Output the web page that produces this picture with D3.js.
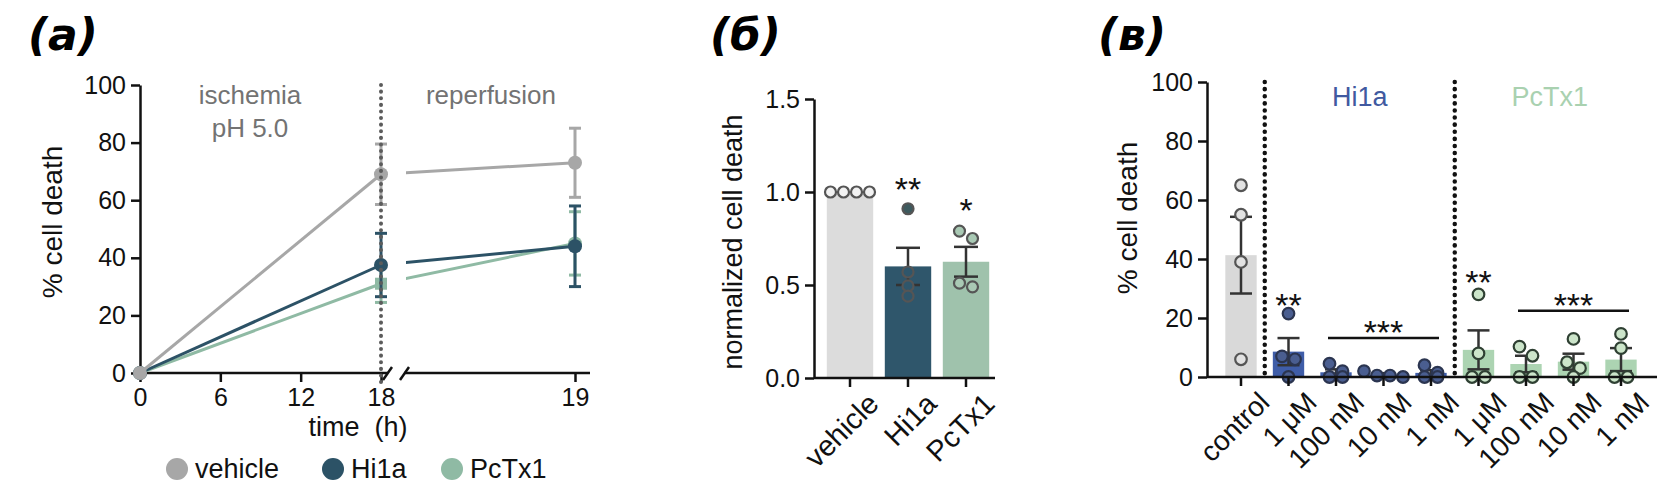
<!DOCTYPE html>
<html>
<head>
<meta charset="utf-8">
<script src="https://cdn.jsdelivr.net/npm/d3@7"></script>
<style>
  body { margin: 0; background: #fff; }
  svg text { font-family: "Liberation Sans", Arial, sans-serif; }
  .panel-label { font-family: "DejaVu Sans", sans-serif; font-weight: bold; font-style: italic; }
</style>
</head>
<body>
<div id="vis"></div>
<script>
const W = 1657, H = 484;

// ---- panel (a) data ----
const seriesA = ["vehicle", "Hi1a", "PcTx1"];
const timesA = [0, 18, 19];
const ticksA1 = [0, 6, 12, 18];
const ticksA2 = [19];
const meanA = {
  vehicle: [0, 69, 73],
  Hi1a: [0, 37.5, 44],
  PcTx1: [0, 31, 45]
};
const semA = {
  vehicle: [0, 10.5, 12],
  Hi1a: [0, 11, 14],
  PcTx1: [0, 6.5, 11]
};
const colorsA = { vehicle: "#a7a7a7", Hi1a: "#2c5266", PcTx1: "#8fbaa4" };

// ---- panel (б) data ----
const groupsB = ["vehicle", "Hi1a", "PcTx1"];
const meanB = [1.0, 0.60, 0.625];
const semB = [0, 0.10, 0.08];
const pointsB = [[1, 1, 1, 1], [0.91, 0.57, 0.495, 0.44], [0.79, 0.75, 0.51, 0.49]];
const starsB = ["", "**", "*"];
const starLevelB = [0, 1.054, 0.94];
const ticksB = [0, 0.5, 1.0, 1.5];

// ---- panel (в) data ----
const labelsC = ["control", "1 μM", "100 nM", "10 nM", "1 nM", "1 μM", "100 nM", "10 nM", "1 nM"];
const groupC = ["control", "Hi1a", "Hi1a", "Hi1a", "Hi1a", "PcTx1", "PcTx1", "PcTx1", "PcTx1"];
const meanC = [41.3, 8.6, 1.6, 0.8, 1.4, 9.2, 4.4, 5.2, 5.9];
const semC = [13, 4.6, 1.0, 0.5, 0.9, 6.6, 2.8, 2.7, 3.9];
const pointsC = [
  [65, 55, 39, 6], [21.5, 7, 6, 0], [4.5, 2, 0, 0], [2, 0.5, 0.5, 0], [4, 1.5, 0, 0],
  [28, 8, 0, 0], [10.3, 7.2, 0, 0], [12.9, 5, 3, 0], [14.6, 9.8, 0, 0]
];
const sigText = ["**", "***", "**", "***"];
const sigFrom = [1, 2, 5, 6];
const sigTo = [1, 4, 5, 8];
const sigLine = [null, 13.2, null, 22.5];
const sigTextLevel = [26.8, 17.6, 34.6, 26.8];
const ticksC = [0, 20, 40, 60, 80, 100];

const barColorC = { control: "#d9d9d9", Hi1a: "#3f5da8", PcTx1: "#acd4b2" };
const dotFillC = { control: "#e2e2e2", Hi1a: "#4a5e90", PcTx1: "#cce5ca" };
const dotStrokeC = { control: "#555", Hi1a: "#2b3550", PcTx1: "#2f4033" };

const svg = d3.select("#vis").append("svg")
  .attr("width", W).attr("height", H);

function styleAxis(g, size) {
  g.selectAll("path, line").attr("stroke", "#111").attr("stroke-width", 2.5);
  g.selectAll("text").attr("fill", "#111").style("font-size", size + "px");
}

// simple row swarm: equal-ish values get spread side by side
function swarm(vals, y, r) {
  const items = vals.map(v => ({ v: v, y: y(v) })).sort((a, b) => a.y - b.y);
  const rows = [];
  items.forEach(it => {
    const row = rows.find(rw => Math.abs(rw.y - it.y) < r * 1.6);
    if (row) row.items.push(it); else rows.push({ y: it.y, items: [it] });
  });
  rows.forEach(rw => rw.items.forEach((it, k) => { it.dx = (k - (rw.items.length - 1) / 2) * (2 * r + 1); }));
  return items;
}

// ================= panel (a) =================
const xA1 = d3.scaleLinear().domain([0, 18]).range([140, 381]);
const xA2 = d3.scaleLinear().domain([18, 19]).range([381, 575]);
const yA = d3.scaleLinear().domain([0, 100]).range([373, 85]);
const gA = svg.append("g");

svg.append("text").attr("class", "panel-label")
  .attr("x", 28).attr("y", 50).style("font-size", "44px").text("(a)");

const axYA = gA.append("g").attr("transform", "translate(140,0)")
  .call(d3.axisLeft(yA).tickValues([0, 20, 40, 60, 80, 100]).tickSize(9).tickSizeOuter(0).tickPadding(5));
styleAxis(axYA, 25);

const axXA1 = gA.append("g").attr("transform", "translate(0,373)")
  .call(d3.axisBottom(xA1).tickValues(ticksA1).tickSize(9).tickSizeOuter(0).tickPadding(6));
axXA1.select(".domain").remove();
styleAxis(axXA1, 25);
const axXA2 = gA.append("g").attr("transform", "translate(0,373)")
  .call(d3.axisBottom(xA2).tickValues(ticksA2).tickFormat(d3.format("d")).tickSize(9).tickSizeOuter(0).tickPadding(6));
axXA2.select(".domain").remove();
styleAxis(axXA2, 25);

// broken x axis line
gA.append("line").attr("x1", 140).attr("x2", 388).attr("y1", 373).attr("y2", 373)
  .attr("stroke", "#111").attr("stroke-width", 2.5);
gA.append("line").attr("x1", 404).attr("x2", 590).attr("y1", 373).attr("y2", 373)
  .attr("stroke", "#111").attr("stroke-width", 2.5);
[383, 400].forEach(bx => {
  gA.append("line").attr("x1", bx).attr("x2", bx + 9).attr("y1", 380).attr("y2", 367)
    .attr("stroke", "#111").attr("stroke-width", 2.5);
});

gA.append("text").attr("transform", "translate(62,222) rotate(-90)")
  .attr("text-anchor", "middle").style("font-size", "28px").attr("fill", "#111").text("% cell death");
gA.append("text").attr("x", 358).attr("y", 436).attr("text-anchor", "middle")
  .style("font-size", "27px").style("white-space", "pre").attr("fill", "#111").text("time  (h)");

gA.append("text").attr("x", 250).attr("y", 104).attr("text-anchor", "middle")
  .style("font-size", "26px").attr("fill", "#737373").text("ischemia");
gA.append("text").attr("x", 250).attr("y", 137).attr("text-anchor", "middle")
  .style("font-size", "26px").attr("fill", "#737373").text("pH 5.0");
gA.append("text").attr("x", 491).attr("y", 104).attr("text-anchor", "middle")
  .style("font-size", "26px").attr("fill", "#737373").text("reperfusion");

svg.append("clipPath").attr("id", "seg2")
  .append("rect").attr("x", 406).attr("y", 0).attr("width", 300).attr("height", 484);
svg.append("clipPath").attr("id", "seg1")
  .append("rect").attr("x", 0).attr("y", 0).attr("width", 390).attr("height", 484);

const drawOrder = ["PcTx1", "Hi1a", "vehicle"];
drawOrder.forEach(s => {
  const m = meanA[s], e = semA[s], c = colorsA[s];
  const pts1 = [[xA1(timesA[0]), yA(m[0])], [xA1(timesA[1]), yA(m[1])]];
  gA.append("path").attr("d", d3.line()(pts1)).attr("fill", "none")
    .attr("stroke", c).attr("stroke-width", 3).attr("clip-path", "url(#seg1)");
  const pts2 = [[xA2(timesA[1]), yA(m[1])], [xA2(timesA[2]), yA(m[2])]];
  gA.append("path").attr("d", d3.line()(pts2)).attr("fill", "none")
    .attr("stroke", c).attr("stroke-width", 3).attr("clip-path", "url(#seg2)");
  // error bars at 18 and 19
  [[xA1(18), 1], [xA2(19), 2]].forEach(([px, i]) => {
    const hi = yA(m[i] + e[i]), lo = yA(m[i] - e[i]);
    gA.append("line").attr("x1", px).attr("x2", px).attr("y1", hi).attr("y2", lo)
      .attr("stroke", c).attr("stroke-width", 3);
    [hi, lo].forEach(yy => gA.append("line").attr("x1", px - 6).attr("x2", px + 6)
      .attr("y1", yy).attr("y2", yy).attr("stroke", c).attr("stroke-width", 3));
  });
  timesA.forEach((t, i) => {
    const px = t <= 18 ? xA1(t) : xA2(t);
    if (s === "PcTx1" && t === 18) {
      gA.append("rect").attr("x", px - 6).attr("y", yA(m[i]) - 6).attr("width", 12).attr("height", 12).attr("fill", c);
    } else {
      gA.append("circle").attr("cx", px).attr("cy", yA(m[i])).attr("r", 7).attr("fill", c);
    }
  });
});

// dotted separator at 18 h
gA.append("line").attr("x1", xA1(18)).attr("x2", xA1(18)).attr("y1", yA(100)).attr("y2", yA(0) + 12)
  .attr("stroke", "#5c5c5c").attr("stroke-width", 4).attr("stroke-linecap", "round")
  .attr("stroke-dasharray", "0.1,6.5");

// legend
const legX = [177, 333, 452];
seriesA.forEach((s, i) => {
  gA.append("circle").attr("cx", legX[i]).attr("cy", 469).attr("r", 11).attr("fill", colorsA[s]);
  gA.append("text").attr("x", legX[i] + 18).attr("y", 478).style("font-size", "27px")
    .attr("fill", "#111").text(s);
});

// ================= panel (б) =================
const xB = d3.scaleBand().domain(groupsB).range([821, 995]).paddingInner(0.2).paddingOuter(0.1);
const yB = d3.scaleLinear().domain([0, 1.5]).range([378, 99]);
const gB = svg.append("g");
const barColB = ["#dcdcdc", "#2f566b", "#9fc2ac"];

svg.append("text").attr("class", "panel-label")
  .attr("x", 710).attr("y", 50).style("font-size", "44px").text("(б)");

gB.selectAll("rect.bar").data(groupsB).enter().append("rect")
  .attr("x", d => xB(d)).attr("y", (d, i) => yB(meanB[i]))
  .attr("width", xB.bandwidth()).attr("height", (d, i) => yB(0) - yB(meanB[i]))
  .attr("fill", (d, i) => barColB[i]);

groupsB.forEach((g, i) => {
  const cx = xB(g) + xB.bandwidth() / 2;
  if (semB[i] > 0) {
    const hi = yB(meanB[i] + semB[i]), lo = yB(meanB[i] - semB[i]);
    gB.append("line").attr("x1", cx).attr("x2", cx).attr("y1", hi).attr("y2", lo).attr("stroke", "#333").attr("stroke-width", 2.5);
    [hi, lo].forEach(yy => gB.append("line").attr("x1", cx - 12).attr("x2", cx + 12).attr("y1", yy).attr("y2", yy)
      .attr("stroke", "#333").attr("stroke-width", 2.5));
  }
  swarm(pointsB[i], yB, 6).forEach(p => {
    const above = p.y < yB(meanB[i]) - 6;
    let fill = i === 0 ? "#f2f2f2" : (i === 1 ? "#2f566b" : "#a9c9b4");
    if (i === 1 && above) fill = "#3d5a5e";
    gB.append("circle").attr("cx", cx + p.dx).attr("cy", p.y).attr("r", 5.5)
      .attr("fill", fill).attr("stroke", "#555").attr("stroke-width", 2.2);
  });
  if (starsB[i]) {
    gB.append("text").attr("x", cx).attr("y", yB(starLevelB[i]) + 19).attr("text-anchor", "middle")
      .style("font-size", "34px").attr("fill", "#111").text(starsB[i]);
  }
});

const axYB = gB.append("g").attr("transform", "translate(814,0)")
  .call(d3.axisLeft(yB).tickValues(ticksB).tickFormat(d3.format(".1f")).tickSize(9).tickSizeOuter(0).tickPadding(5));
styleAxis(axYB, 25);
const axXB = gB.append("g").attr("transform", "translate(0,378)")
  .call(d3.axisBottom(xB).tickSize(9).tickSizeOuter(0).tickPadding(4));
axXB.select(".domain").remove();
styleAxis(axXB, 29);
axXB.selectAll("text").attr("text-anchor", "end")
  .attr("transform", "translate(9,6) rotate(-45)").attr("dy", "0.6em");
gB.append("line").attr("x1", 814).attr("x2", 995).attr("y1", 378).attr("y2", 378)
  .attr("stroke", "#111").attr("stroke-width", 2.5);
gB.append("text").attr("transform", "translate(742,242) rotate(-90)")
  .attr("text-anchor", "middle").style("font-size", "27px").attr("fill", "#111").text("normalized cell death");

// ================= panel (в) =================
const idxC = d3.range(labelsC.length);
const xC = d3.scaleBand().domain(idxC).range([1217.25, 1644.75]).paddingInner(0.34).paddingOuter(0.17);
const yC = d3.scaleLinear().domain([0, 100]).range([377, 82]);
const gC = svg.append("g");
const cxC = i => xC(i) + xC.bandwidth() / 2;

svg.append("text").attr("class", "panel-label")
  .attr("x", 1098).attr("y", 50).style("font-size", "44px").text("(в)");

gC.selectAll("rect.bar").data(idxC).enter().append("rect")
  .attr("x", i => xC(i)).attr("y", i => yC(meanC[i]))
  .attr("width", xC.bandwidth()).attr("height", i => yC(0) - yC(meanC[i]))
  .attr("fill", i => barColorC[groupC[i]]);

idxC.forEach(i => {
  const cx = cxC(i);
  const hi = yC(meanC[i] + semC[i]), lo = yC(Math.max(0, meanC[i] - semC[i]));
  gC.append("line").attr("x1", cx).attr("x2", cx).attr("y1", hi).attr("y2", lo).attr("stroke", "#333").attr("stroke-width", 2.5);
  [hi, lo].forEach(yy => gC.append("line").attr("x1", cx - 11).attr("x2", cx + 11).attr("y1", yy).attr("y2", yy)
    .attr("stroke", "#333").attr("stroke-width", 2.5));
  swarm(pointsC[i], yC, 6).forEach(p => {
    gC.append("circle").attr("cx", cx + p.dx).attr("cy", p.y).attr("r", 5.8)
      .attr("fill", dotFillC[groupC[i]]).attr("stroke", dotStrokeC[groupC[i]]).attr("stroke-width", 2.2);
  });
});

// dotted group separators
[[0, 1], [4, 5]].forEach(([a, b]) => {
  const sx = (cxC(a) + cxC(b)) / 2;
  gC.append("line").attr("x1", sx).attr("x2", sx).attr("y1", yC(100)).attr("y2", yC(0))
    .attr("stroke", "#111").attr("stroke-width", 4.5).attr("stroke-linecap", "round")
    .attr("stroke-dasharray", "0.1,7");
});

gC.append("text").attr("x", (cxC(1) + cxC(4)) / 2).attr("y", 106).attr("text-anchor", "middle")
  .style("font-size", "27px").attr("fill", "#4059a0").text("Hi1a");
gC.append("text").attr("x", (cxC(5) + cxC(8)) / 2).attr("y", 106).attr("text-anchor", "middle")
  .style("font-size", "27px").attr("fill", "#a9d1b0").text("PcTx1");

sigText.forEach((t, k) => {
  const x0 = cxC(sigFrom[k]), x1 = cxC(sigTo[k]);
  if (sigLine[k] !== null) {
    gC.append("line").attr("x1", x0 - 8).attr("x2", x1 + 8).attr("y1", yC(sigLine[k])).attr("y2", yC(sigLine[k]))
      .attr("stroke", "#111").attr("stroke-width", 2.5);
  }
  gC.append("text").attr("x", (x0 + x1) / 2).attr("y", yC(sigTextLevel[k]) + 19).attr("text-anchor", "middle")
    .style("font-size", "34px").attr("fill", "#111").text(t);
});

const axYC = gC.append("g").attr("transform", "translate(1207,0)")
  .call(d3.axisLeft(yC).tickValues(ticksC).tickSize(9).tickSizeOuter(0).tickPadding(5));
styleAxis(axYC, 25);
const axXC = gC.append("g").attr("transform", "translate(0,377)")
  .call(d3.axisBottom(xC).tickFormat(i => labelsC[i]).tickSize(9).tickSizeOuter(0).tickPadding(4));
axXC.select(".domain").remove();
styleAxis(axXC, 28);
axXC.selectAll("text").attr("text-anchor", "end")
  .attr("transform", "translate(9,6) rotate(-45)").attr("dy", "0.6em");
gC.append("line").attr("x1", 1207).attr("x2", 1657).attr("y1", 377).attr("y2", 377)
  .attr("stroke", "#111").attr("stroke-width", 2.5);
gC.append("text").attr("transform", "translate(1137,218) rotate(-90)")
  .attr("text-anchor", "middle").style("font-size", "28px").attr("fill", "#111").text("% cell death");
</script>
</body>
</html>
